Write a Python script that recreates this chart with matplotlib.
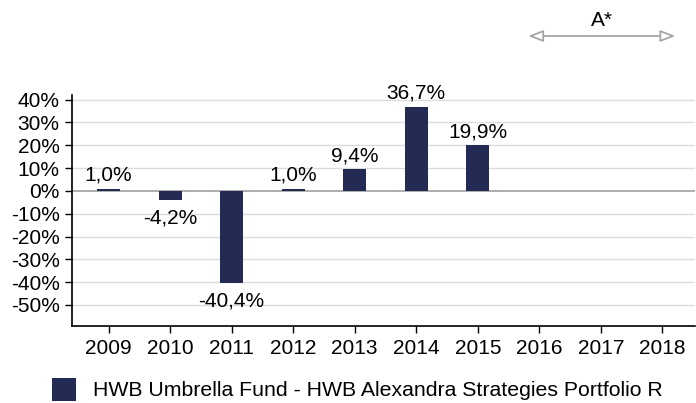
import matplotlib
matplotlib.use("Agg")
import matplotlib.pyplot as plt
import matplotlib.transforms as mtransforms

years = ["2009", "2010", "2011", "2012", "2013", "2014", "2015", "2016", "2017", "2018"]
values = [1.0, -4.2, -40.4, 1.0, 9.4, 36.7, 19.9, None, None, None]
labels = ["1,0%", "-4,2%", "-40,4%", "1,0%", "9,4%", "36,7%", "19,9%", None, None, None]
yticks = [40, 30, 20, 10, 0, -10, -20, -30, -40, -50]
series_name = "HWB Umbrella Fund - HWB Alexandra Strategies Portfolio R"
annotation_text = "A*"

plt.rcParams['font.family'] = ['Liberation Sans', 'DejaVu Sans']
FS = 15
bar_color = "#232b55"

fig = plt.figure(figsize=(6.96, 4.03), dpi=100)
ax = fig.add_axes([72/696, 1-326/403, 623/696, (326-95)/403])

xs = list(range(len(years)))
for i, v in enumerate(values):
    if v is None:
        continue
    ax.bar(i, v, width=0.37, color=bar_color, zorder=3)
    if v >= 0:
        ax.annotate(labels[i], (i, v), xytext=(0, 3), textcoords="offset points",
                    ha="center", va="bottom", fontsize=FS)
    else:
        ax.annotate(labels[i], (i, v), xytext=(0, -6), textcoords="offset points",
                    ha="center", va="top", fontsize=FS)

ax.set_xlim(-0.595, 9.53)
ax.set_ylim(-59.2, 42)
ax.set_yticks(yticks)
ax.set_yticklabels([f"{t}%" for t in yticks], fontsize=FS)
ax.set_xticks(xs)
ax.set_xticklabels(years, fontsize=FS)
for t in yticks:
    if t == 0:
        ax.axhline(0, color="#a0a0a0", lw=1.2, zorder=2)
    else:
        ax.axhline(t, color="#dcdcdc", lw=1, zorder=1)

for s in ["top", "right"]:
    ax.spines[s].set_visible(False)
ax.spines["left"].set_color("black")
ax.spines["bottom"].set_color("black")
ax.spines["left"].set_linewidth(1.2)
ax.spines["bottom"].set_linewidth(1.2)
ax.tick_params(axis="both", direction="out", length=5, width=1, color="black", pad=4)

# Arrow annotation above the chart
trans = mtransforms.blended_transform_factory(ax.transData, fig.transFigure)
y_arrow = 1 - 36/403
ax.annotate("", xy=(9.21, y_arrow), xytext=(6.82, y_arrow), xycoords=trans, textcoords=trans,
            arrowprops=dict(arrowstyle="<|-|>,head_length=0.9,head_width=0.35",
                            fc="white", ec="#a6a6a6", lw=1.3, shrinkA=0, shrinkB=0),
            annotation_clip=False)
ax.text((6.82+9.21)/2, 1 - 20/403, annotation_text, transform=trans, ha="center", va="center",
        fontsize=FS)

# Legend
fig.patches.append(plt.Rectangle((52/696, 1-401/403), 24/696, 23/403, transform=fig.transFigure,
                                 facecolor=bar_color, edgecolor="none"))
fig.text(93/696, 1-391/403, series_name, ha="left", va="center", fontsize=15.3)

fig.savefig("out.png", dpi=100)
